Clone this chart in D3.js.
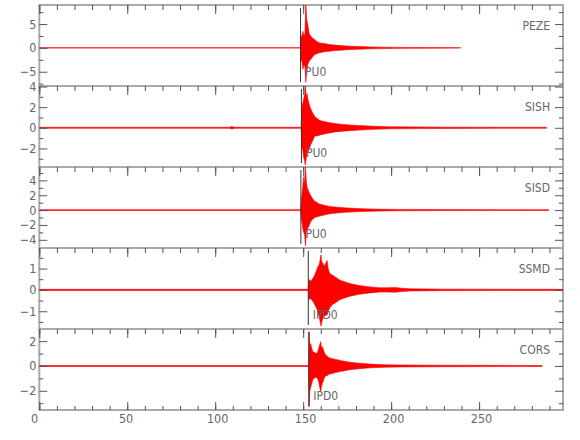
<!DOCTYPE html>
<html><head><meta charset="utf-8">
<script src="https://cdn.jsdelivr.net/npm/d3@7"></script>
<style>
body{margin:0;background:#fff}
svg{display:block}
text{font-family:"Liberation Sans Narrow","DejaVu Sans Condensed","Arial Narrow",sans-serif}
</style>
</head><body><svg id="c" width="580" height="440"></svg>
<script>
// ---------- data ----------
const stations = ["PEZE", "SISH", "SISD", "SSMD", "CORS"];
const phaseLabels = ["PU0", "PU0", "PU0", "IPD0", "IPD0"];
const pickTimes = [148.5, 149.0, 148.7, 152.9, 153.2];
const yDomains = [[-8, 9], [-3.8, 4.05], [-5.1, 5.8], [-1.83, 1.96], [-3.55, 2.98]];
const yMajorTicks = [[-5, 0, 5], [-2, 0, 2, 4], [-4, -2, 0, 2, 4], [-1, 0, 1], [-2, 0, 2]];
const yMinorTicks = [[-7.5, -2.5, 2.5, 7.5], [-3, -1, 1, 3], [-5, -3, -1, 1, 3, 5], [-1.5, -0.5, 0.5, 1.5], [-3, -1, 1]];
const xDomain = [0, 297.7];
const xMajorTicks = [0, 50, 100, 150, 200, 250];
const xMinorTicks = d3.range(0, 291, 10);

// envelope of each trace (time s, upper, lower)
const pezeT  = [0, 148.5, 148.7, 149.2, 149.8, 150.5, 151.0, 151.5, 152.0, 152.6, 153.4, 154.4, 155.5, 156.6, 158, 159.5, 162, 165, 168, 171, 176.5, 182, 188, 196, 205, 220, 239.4];
const pezeHi = [0.05, 0.05, 2.8, 2.0, 3.5, 2.5, 3.0, 9.5, 6.0, 4.9, 3.0, 2.4, 2.0, 1.7, 1.3, 1.0, 0.9, 0.7, 0.6, 0.5, 0.35, 0.3, 0.2, 0.15, 0.1, 0.08, 0.05];
const pezeLo = [-0.05, -0.05, -2.8, -2.5, -4.5, -3.5, -4.0, -7.2, -5.0, -3.5, -2.8, -2.4, -1.8, -1.4, -1.2, -1.0, -0.8, -0.7, -0.55, -0.5, -0.35, -0.28, -0.2, -0.15, -0.1, -0.08, -0.05];

const sishT  = [0, 60, 108, 109.5, 111, 148.9, 149.2, 149.8, 150.3, 150.8, 151.2, 151.7, 152.2, 152.7, 153.5, 154.4, 155.5, 156.6, 158, 159.5, 162, 165, 168, 171, 176, 182, 190, 199, 215, 233, 260, 288.3];
const sishHi = [0.05, 0.05, 0.05, 0.12, 0.05, 0.05, 2.1, 2.4, 2.8, 3.2, 4.3, 3.0, 3.3, 2.75, 2.2, 1.8, 1.4, 1.1, 0.9, 0.7, 0.6, 0.5, 0.42, 0.35, 0.28, 0.22, 0.15, 0.1, 0.08, 0.06, 0.05, 0.05];
const sishLo = [-0.05, -0.05, -0.05, -0.12, -0.05, -0.05, -1.8, -2.2, -2.9, -3.2, -3.6, -3.0, -2.6, -2.4, -2.0, -1.6, -1.2, -0.8, -0.8, -0.7, -0.6, -0.5, -0.4, -0.35, -0.28, -0.22, -0.15, -0.1, -0.08, -0.06, -0.05, -0.05];

const sisdT  = [0, 148.6, 148.9, 149.2, 149.8, 150.3, 150.8, 151.3, 151.8, 152.3, 152.7, 153.5, 154.4, 155.5, 156.6, 158, 159.5, 162, 165, 169, 173.6, 180, 188, 196, 205, 230, 260, 289.6];
const sisdHi = [0.06, 0.06, 1.2, 1.9, 3.2, 4.5, 3.5, 6.0, 3.8, 3.0, 2.8, 2.3, 1.9, 1.5, 1.2, 1.0, 0.8, 0.65, 0.5, 0.4, 0.3, 0.22, 0.15, 0.11, 0.09, 0.07, 0.06, 0.05];
const sisdLo = [-0.06, -0.06, -1.0, -1.5, -2.5, -3.0, -3.2, -4.8, -3.0, -2.6, -2.4, -2.0, -1.5, -1.2, -1.0, -0.9, -0.8, -0.65, -0.5, -0.4, -0.3, -0.22, -0.15, -0.11, -0.09, -0.07, -0.06, -0.05];

const ssmdT  = [0, 152.9, 153.2, 154, 155, 156, 156.6, 157.5, 158.4, 159.2, 160.1, 160.6, 161.2, 162, 163.6, 164.2, 165, 166.5, 168, 171, 176.5, 182, 188, 193.5, 198, 202, 206, 210.5, 230, 260, 297.7];
const ssmdHi = [0.025, 0.025, 0.5, 0.4, 0.47, 0.6, 0.7, 0.9, 1.1, 1.2, 1.64, 1.3, 1.25, 1.1, 1.38, 1.0, 0.78, 0.7, 0.62, 0.45, 0.3, 0.2, 0.14, 0.1, 0.1, 0.11, 0.08, 0.05, 0.035, 0.03, 0.025];
const ssmdLo = [-0.025, -0.025, -0.47, -0.4, -0.47, -0.6, -0.7, -0.85, -1.0, -1.3, -1.69, -1.5, -1.33, -1.2, -1.17, -1.0, -0.86, -0.7, -0.62, -0.45, -0.3, -0.2, -0.14, -0.1, -0.1, -0.11, -0.08, -0.05, -0.035, -0.03, -0.025];

const corsT  = [0, 153.1, 153.4, 153.8, 154.3, 154.9, 155.5, 156.3, 157.2, 158.2, 159.0, 159.9, 160.4, 160.9, 161.5, 162.3, 163.2, 165, 168, 171, 176.5, 182, 188, 196, 205, 230, 260, 285.8];
const corsHi = [0.04, 0.04, 2.77, 1.6, 1.8, 1.4, 1.15, 1.1, 1.0, 1.1, 1.5, 1.96, 1.5, 1.55, 1.3, 1.0, 0.85, 0.65, 0.55, 0.45, 0.3, 0.22, 0.15, 0.1, 0.08, 0.06, 0.05, 0.04];
const corsLo = [-0.04, -0.04, -3.3, -2.0, -1.7, -1.4, -1.1, -1.0, -0.9, -1.0, -1.4, -2.07, -1.7, -1.4, -1.2, -0.85, -0.8, -0.65, -0.55, -0.45, -0.3, -0.22, -0.15, -0.1, -0.08, -0.06, -0.05, -0.04];

const traceTimes = [pezeT, sishT, sisdT, ssmdT, corsT];
const traceHi = [pezeHi, sishHi, sisdHi, ssmdHi, corsHi];
const traceLo = [pezeLo, sishLo, sisdLo, ssmdLo, corsLo];

// ---------- layout ----------
const svg = d3.select("#c");
const left = 39.3, right = 563, top0 = 5, bottom = 410;
const nP = stations.length;
const panelH = (bottom - top0) / nP;
const frameCol = "#aaaaaa", tickCol = "#555", textCol = "#666";
const fmt = d3.format("~g");

const x = d3.scaleLinear().domain(xDomain).range([left, right]);

svg.append("defs").selectAll("clipPath").data(stations).join("clipPath")
  .attr("id", (d, i) => "clip" + i)
  .append("rect").attr("x", left).attr("y", 0).attr("width", right - left).attr("height", panelH);

stations.forEach((name, i) => {
  const top = top0 + i * panelH;
  const g = svg.append("g").attr("transform", `translate(0,${top})`);
  const y = d3.scaleLinear().domain(yDomains[i]).range([panelH, 0]);

  // frame
  g.append("rect").attr("x", left).attr("y", 0).attr("width", right - left).attr("height", panelH)
    .attr("fill", "none").attr("stroke", frameCol).attr("stroke-width", 2);

  // trace
  const data = traceTimes[i].map((t, k) => ({t, hi: traceHi[i][k], lo: traceLo[i][k]}));
  const area = d3.area().x(d => x(d.t)).y0(d => y(d.lo)).y1(d => y(d.hi));
  g.append("path").datum(data).attr("d", area)
    .attr("clip-path", `url(#clip${i})`)
    .attr("fill", "#ff0000").attr("stroke", "#ff0000").attr("stroke-width", 0.6)
    .attr("stroke-linejoin", "round");

  // pick line + phase label
  g.append("line").attr("x1", x(pickTimes[i])).attr("x2", x(pickTimes[i]))
    .attr("y1", 3).attr("y2", panelH - 4).attr("stroke", "#333").attr("stroke-width", 1);
  g.append("text").attr("x", x(pickTimes[i]) + 4.5).attr("y", 71)
    .attr("font-size", 12).attr("fill", textCol).text(phaseLabels[i]);

  // station name
  g.append("text").attr("x", 550).attr("y", 24.5).attr("text-anchor", "end")
    .attr("font-size", 12).attr("fill", textCol).text(name);

  // y axes (left with labels, right mirrored)
  const yl = g.append("g").attr("transform", `translate(${left},0)`)
    .call(d3.axisLeft(y).tickValues(yMajorTicks[i]).tickSize(-8).tickPadding(3).tickFormat(fmt));
  yl.append("g").call(d3.axisLeft(y).tickValues(yMinorTicks[i]).tickSize(-4).tickFormat(""));
  const yr = g.append("g").attr("transform", `translate(${right},0)`)
    .call(d3.axisRight(y).tickValues(yMajorTicks[i]).tickSize(-8).tickFormat(""));
  yr.append("g").call(d3.axisRight(y).tickValues(yMinorTicks[i]).tickSize(-4).tickFormat(""));

  // top x ticks (inward)
  const xt = g.append("g").call(d3.axisTop(x).tickValues(xMajorTicks).tickSize(-9).tickFormat(""));
  xt.append("g").call(d3.axisTop(x).tickValues(xMinorTicks).tickSize(-5).tickFormat(""));

  if (i === nP - 1) {
    const xb = g.append("g").attr("transform", `translate(0,${panelH})`)
      .call(d3.axisBottom(x).tickValues(xMajorTicks).tickSize(-8).tickFormat(""));
    xb.append("g").call(d3.axisBottom(x).tickValues(xMinorTicks).tickSize(-4).tickFormat(""));
    g.append("g").selectAll("text").data(xMajorTicks).join("text")
      .attr("x", d => x(d) - 8.3).attr("y", panelH + 12.5)
      .attr("font-size", 12.5).attr("fill", textCol).text(d => d);
  }
});

svg.selectAll(".domain").remove();
svg.selectAll(".tick line").attr("stroke", tickCol);
svg.selectAll(".tick text").attr("fill", textCol).attr("font-size", 12.5)
  .attr("font-family", '"Liberation Sans Narrow","DejaVu Sans Condensed",sans-serif');
</script>
</body></html>
